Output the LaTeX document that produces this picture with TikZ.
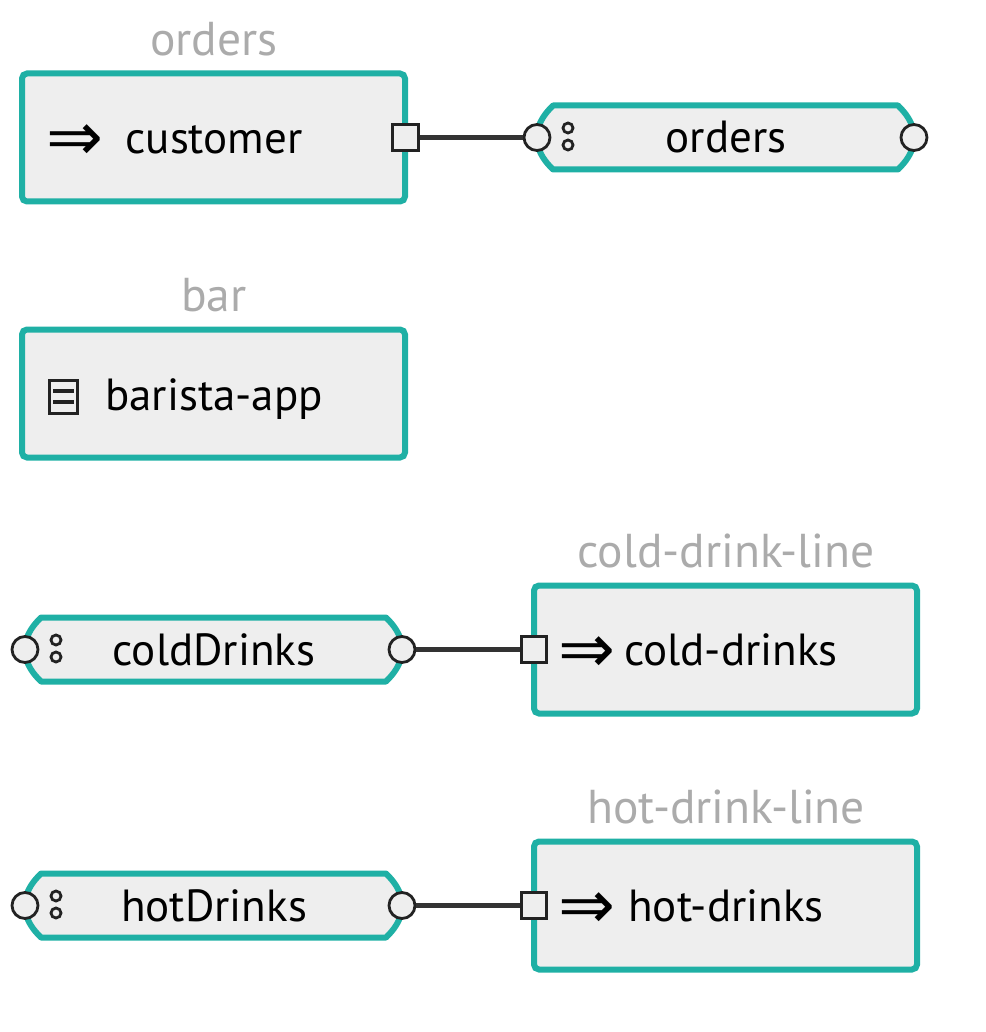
\documentclass[tikz,border=0pt]{standalone}
\usepackage{fontspec}
\setmainfont{PT Sans}
\newfontfamily\symfont{DejaVu Sans}
\definecolor{teal1}{HTML}{1FB0A5}
\definecolor{fillg}{HTML}{EEEEEE}
\definecolor{ink}{HTML}{222222}
\definecolor{linkc}{HTML}{333333}
\definecolor{capg}{HTML}{ABABAB}
\tikzset{
  x=1pt,y=-1pt,
  boxnode/.style={draw=teal1,fill=fillg,line width=6pt,rounded corners=5pt,minimum width=383pt,minimum height=128pt,inner sep=0pt},
  pillshape/.style={draw=teal1,fill=fillg,line width=6pt,line join=round},
  portsq/.style={draw=ink,fill=fillg,line width=2.8pt,minimum size=25.5pt,inner sep=0pt},
  portcirc/.style={circle,draw=ink,fill=fillg,line width=2.8pt,minimum size=26pt,inner sep=0pt},
  dotc/.style={circle,draw=ink,fill=none,line width=2.8pt,minimum size=10pt,inner sep=0pt},
  capt/.style={text=capg,font=\fontsize{47.5}{50}\selectfont,inner sep=0pt,anchor=base},
  main/.style={text=black,font=\fontsize{45}{48}\selectfont,inner sep=0pt,anchor=base},
  arr/.style={text=black,font=\symfont\fontsize{68}{70}\selectfont,inner sep=0pt},
  linkline/.style={draw=linkc,line width=5.8pt},
  iconl/.style={draw=ink,line width=3.2pt},
}
\newcommand{\pillpath}[4]{% left x, right x, top y, bottom y
  \path[pillshape] (#1-1,{(#3+#4)/2}) .. controls (#1+1,#3+16) and (#1+9,#3+7) .. (#1+16,#3)
    -- (#2-16,#3) .. controls (#2-9,#3+7) and (#2-1,#3+16) .. (#2+1,{(#3+#4)/2})
    .. controls (#2-1,#4-16) and (#2-9,#4-7) .. (#2-16,#4)
    -- (#1+16,#4) .. controls (#1+9,#4-7) and (#1+1,#4-16) .. (#1-1,{(#3+#4)/2}) -- cycle;}
\begin{document}
\begin{tikzpicture}
\useasboundingbox (0,0) rectangle (985,1032);
% boxes
\node[boxnode] (customerbox) at (213.5,137.5) {};
\node[boxnode] (baristabox) at (213.5,393.5) {};
\node[boxnode] (coldbox) at (725.5,649.5) {};
\node[boxnode] (hotbox) at (725.5,905.5) {};
% pills
\pillpath{537}{914}{105.5}{169.5}
\pillpath{25}{402}{617.5}{681.5}
\pillpath{25}{402}{873.5}{937.5}
% captions
\node[capt] (cap1) at (214,55.5) {orders};
\node[capt] (cap2) at (214,311.5) {bar};
\node[capt] (cap3) at (726,567.5) {cold-drink-line};
\node[capt] (cap4) at (726,823.5) {hot-drink-line};
% labels
\node[arr] (a1) at (75,142.5) {⇒};
\node[main] (t1) at (214,154) {customer};
\node[main] (t2) at (214,410) {barista-app};
\node[main] (t3) at (726,153) {orders};
\node[main] (t4) at (214,665) {coldDrinks};
\node[main] (t5) at (214,921) {hotDrinks};
\node[arr] (a2) at (587,654.5) {⇒};
\node[main] (t6) at (731,665) {cold-drinks};
\node[arr] (a3) at (587,910.5) {⇒};
\node[main] (t7) at (726,921) {hot-drinks};
% document icon
\node[draw=ink,line width=3pt,minimum width=28pt,minimum height=33pt,inner sep=0pt] (doc) at (63.5,397) {};
\draw[iconl] (53,391) -- (74,391);
\draw[iconl] (53,402) -- (74,402);
% ports
\node[portsq] (s1) at (405.5,137.5) {};
\node[portcirc] (c1) at (537,137.5) {};
\node[portcirc] (c2) at (914,137.5) {};
\node[portcirc] (c3) at (25,649.5) {};
\node[portcirc] (c4) at (402,649.5) {};
\node[portsq] (s2) at (534,649.5) {};
\node[portcirc] (c5) at (25,905.5) {};
\node[portcirc] (c6) at (402,905.5) {};
\node[portsq] (s3) at (534,905.5) {};
\node[dotc] (d1) at (568,128) {};
\node[dotc] (d2) at (568,145) {};
\node[dotc] (d3) at (56,640) {};
\node[dotc] (d4) at (56,657) {};
\node[dotc] (d5) at (56,896) {};
\node[dotc] (d6) at (56,913) {};
% connectors
\draw[linkline] (s1) -- (c1);
\draw[linkline] (c4) -- (s2);
\draw[linkline] (c6) -- (s3);
\end{tikzpicture}
\end{document}
